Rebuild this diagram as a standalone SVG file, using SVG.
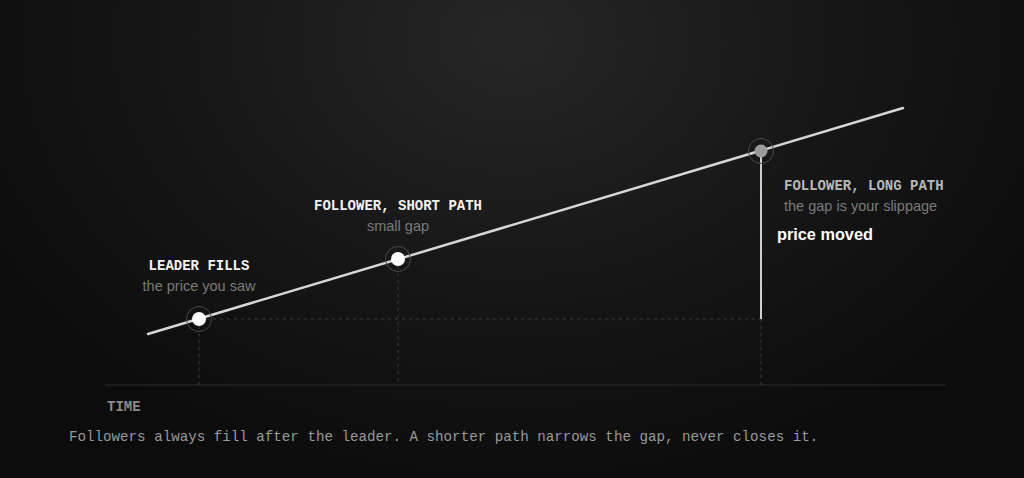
<svg xmlns="http://www.w3.org/2000/svg" width="1024" height="478" viewBox="0 0 1024 478">
  <defs>
    <radialGradient id="bg" cx="512" cy="40" r="620" gradientUnits="userSpaceOnUse" gradientTransform="translate(512 40) scale(1 0.75) translate(-512 -40)">
      <stop offset="0" stop-color="#262626"/>
      <stop offset="0.55" stop-color="#161616"/>
      <stop offset="1" stop-color="#0c0c0c"/>
    </radialGradient>
    <style>
      .mono { font-family: "Liberation Mono", "DejaVu Sans Mono", monospace; font-weight: bold; font-size: 14px; }
      .sans { font-family: "Liberation Sans", Arial, sans-serif; font-size: 14.5px; fill: #7a7a7a; }
      .guide { stroke: #3a3a3a; stroke-width: 1; stroke-dasharray: 3 4; fill: none; }
      .ring { fill: none; stroke: #4a4a4a; stroke-width: 1; }
    </style>
  </defs>
  <rect width="1024" height="478" fill="url(#bg)"/>

  <g id="connectors">
    <line id="axis" x1="105" y1="385" x2="946" y2="385" stroke="#2c2c2c" stroke-width="1"/>
    <line class="guide" x1="199" y1="319" x2="761" y2="319"/>
    <line class="guide" x1="199" y1="319" x2="199" y2="385"/>
    <line class="guide" x1="398" y1="259" x2="398" y2="385"/>
    <line class="guide" x1="761" y1="319" x2="761" y2="385"/>
    <line id="price-line" x1="148" y1="334" x2="903" y2="108" stroke="#d6d6d6" stroke-width="2.5" stroke-linecap="round"/>
    <line id="gap" x1="761" y1="151" x2="761" y2="319" stroke="#cfcfcf" stroke-width="2"/>
  </g>

  <g id="leader">
    <circle class="ring" cx="199" cy="319" r="12.5"/>
    <circle cx="199" cy="319" r="7" fill="#ffffff"/>
    <text class="mono" x="199" y="269.5" text-anchor="middle" fill="#f2f2f2">LEADER FILLS</text>
    <text class="sans" x="199" y="290.5" text-anchor="middle">the price you saw</text>
  </g>

  <g id="follower-short">
    <circle class="ring" cx="398" cy="259" r="12.5"/>
    <circle cx="398" cy="259" r="7" fill="#ffffff"/>
    <text class="mono" x="398" y="209.5" text-anchor="middle" fill="#f2f2f2">FOLLOWER, SHORT PATH</text>
    <text class="sans" x="398" y="231" text-anchor="middle">small gap</text>
  </g>

  <g id="follower-long">
    <circle class="ring" cx="761" cy="151" r="12.5"/>
    <circle cx="761" cy="151" r="6.5" fill="#9a9a9a"/>
    <text class="mono" x="784" y="189.5" fill="#b8b8b8">FOLLOWER, LONG PATH</text>
    <text class="sans" x="784" y="210.5">the gap is your slippage</text>
    <text x="777" y="240" font-family="Liberation Sans, Arial, sans-serif" font-weight="bold" font-size="16.3" fill="#ffffff">price moved</text>
  </g>

  <g id="labels">
    <text class="mono" x="107" y="411" font-size="13.5" fill="#8a8a8a">TIME</text>
    <text x="69" y="441" font-family="Liberation Mono, DejaVu Sans Mono, monospace" font-size="14.2" fill="#9a9a9a">Followers always fill after the leader. A shorter path narrows the gap, never closes it.</text>
  </g>
</svg>
